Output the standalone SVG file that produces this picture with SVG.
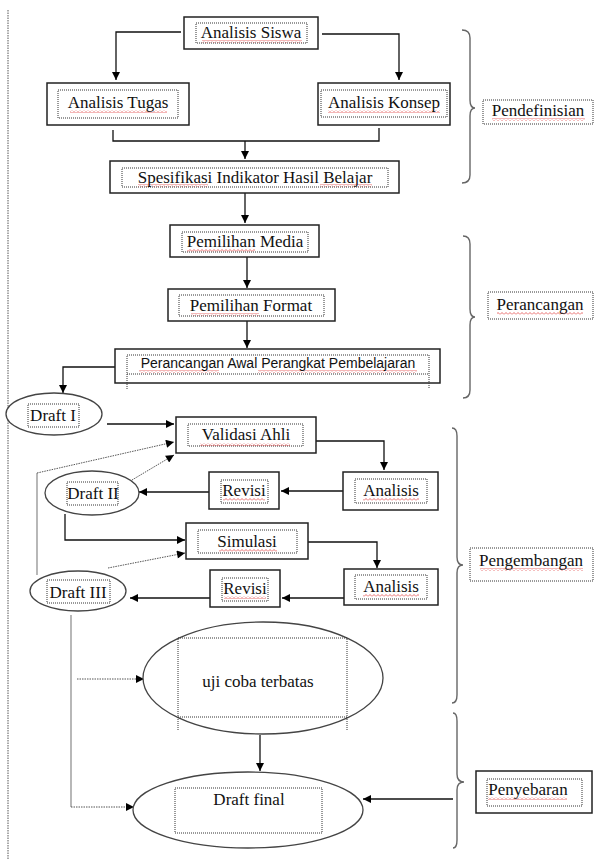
<svg xmlns="http://www.w3.org/2000/svg" width="594" height="863" viewBox="0 0 594 863">
<style>
.box{fill:#fff;stroke:#222;stroke-width:1.5}
.inner{fill:none;stroke:#333;stroke-width:1;stroke-dasharray:1,1}
.ell{fill:#fff;stroke:#444;stroke-width:1.3}
.t{font-family:'Liberation Serif','Times New Roman',serif;font-size:17px;fill:#111;text-anchor:middle}
.ts{font-family:'Liberation Sans',Arial,sans-serif;font-size:14px;fill:#111;text-anchor:middle}
.c{fill:none;stroke:#111;stroke-width:1.3}
.cd{fill:none;stroke:#555;stroke-width:1;stroke-dasharray:1.5,1}
.cg{fill:none;stroke:#888;stroke-width:1.2}
.brace{fill:none;stroke:#666;stroke-width:1.4}
.w{fill:url(#wave)}
</style>
<defs>
<marker id="ah" viewBox="0 0 10 10" refX="10" refY="5" markerWidth="9" markerHeight="8" markerUnits="userSpaceOnUse" orient="auto">
<path d="M0,0 L10,5 L0,10 z" fill="#000"/>
</marker>
<pattern id="wave" width="4" height="3" patternUnits="userSpaceOnUse">
<path d="M0,2.5 L2,0.5 L4,2.5" fill="none" stroke="#e03030" stroke-width="0.7"/>
</pattern>
</defs>
<rect width="594" height="863" fill="#fff"/>
<line x1="8" y1="10" x2="8" y2="860" class="cd"/>

<g id="connectors">
<path class="c" d="M181,32 H116 V80" marker-end="url(#ah)"/>
<path class="c" d="M322,34 H399 V80" marker-end="url(#ah)"/>
<path class="c" d="M113,130 V141 H379 V128"/>
<path class="c" d="M245,141 V159" marker-end="url(#ah)"/>
<path class="c" d="M245,193 V223" marker-end="url(#ah)"/>
<path class="c" d="M247,257 V288" marker-end="url(#ah)"/>
<path class="c" d="M247,321 V348" marker-end="url(#ah)"/>
<path class="c" d="M115,367 H63 V393" marker-end="url(#ah)"/>
<path class="c" d="M107,424 H174" marker-end="url(#ah)"/>
<path class="c" d="M316,441 H384 V470" marker-end="url(#ah)"/>
<path class="c" d="M343,491 H281" marker-end="url(#ah)"/>
<path class="c" d="M209,492 H139" marker-end="url(#ah)"/>
<path class="c" d="M65,514 V540 H185" marker-end="url(#ah)"/>
<path class="c" d="M308,542 H377 V568" marker-end="url(#ah)"/>
<path class="c" d="M344,598 H282" marker-end="url(#ah)"/>
<path class="c" d="M210,598 H130" marker-end="url(#ah)"/>
<path class="cd" d="M132,480 L174,455" marker-end="url(#ah)"/>
<path class="cg" d="M37,575 V473"/>
<path class="cd" d="M37,473 L174,442" marker-end="url(#ah)"/>
<path class="cd" d="M108,568 L185,553" marker-end="url(#ah)"/>
<path class="cg" d="M71,615 V807"/>
<path class="cd" d="M71,807 H134" marker-end="url(#ah)"/>
<path class="cd" d="M77,679 H144" marker-end="url(#ah)"/>
<path class="c" d="M260,735 V771" marker-end="url(#ah)"/>
<path class="c" d="M453,799 H363" marker-end="url(#ah)"/>
</g>

<g id="brace-pendefinisian"><path class="brace" d="M462,30 Q470,30 470,38 L470,100 Q470,108 475,108 Q470,108 470,116 L470,175 Q470,183 462,183"/></g>
<g id="brace-perancangan"><path class="brace" d="M463,236 Q470,236 470,244 L470,309 Q470,317 475,317 Q470,317 470,325 L470,390 Q470,398 463,398"/></g>
<g id="brace-pengembangan"><path class="brace" d="M452,428 Q457,428 457,436 L457,557 Q457,565 463,565 Q457,565 457,573 L457,695 Q457,703 452,703"/></g>
<g id="brace-penyebaran"><path class="brace" d="M453,713 Q457,713 457,721 L457,774 Q457,782 464,782 Q457,782 457,790 L457,840 Q457,848 453,848"/></g>

<g id="analisis-siswa">
<rect class="box" x="184" y="17" width="134" height="32"/>
<rect class="inner" x="196" y="23" width="111" height="20"/>
<rect class="w" x="202" y="40" width="100" height="3"/>
<text class="t" x="251" y="38">Analisis Siswa</text>
</g>
<g id="analisis-tugas">
<rect class="box" x="47" y="83" width="142" height="42"/>
<rect class="inner" x="58" y="90" width="120" height="28"/>
<rect class="w" x="70" y="110" width="97" height="3"/>
<text class="t" x="118" y="108">Analisis Tugas</text>
</g>
<g id="analisis-konsep">
<rect class="box" x="318" y="83" width="132" height="42"/>
<rect class="inner" x="321" y="90" width="126" height="27"/>
<rect class="w" x="328" y="110" width="112" height="3"/>
<text class="t" x="384" y="108">Analisis Konsep</text>
</g>
<g id="spesifikasi">
<rect class="box" x="110" y="161" width="289" height="32"/>
<rect class="inner" x="122" y="168" width="266" height="19"/>
<rect class="w" x="138" y="184" width="70" height="3"/>
<rect class="w" x="320" y="184" width="52" height="3"/>
<text class="t" x="255" y="183">Spesifikasi Indikator Hasil Belajar</text>
</g>
<g id="pemilihan-media">
<rect class="box" x="170" y="225" width="149" height="32"/>
<rect class="inner" x="182" y="232" width="126" height="20"/>
<rect class="w" x="187" y="249" width="68" height="3"/>
<text class="t" x="245" y="247">Pemilihan Media</text>
</g>
<g id="pemilihan-format">
<rect class="box" x="168" y="289" width="167" height="32"/>
<rect class="inner" x="179" y="295" width="145" height="21"/>
<rect class="w" x="191" y="313" width="68" height="3"/>
<text class="t" x="251" y="311">Pemilihan Format</text>
</g>
<g id="perancangan-awal">
<rect class="box" x="115" y="349" width="325" height="34"/>
<path class="inner" d="M127,389 V355 H429 V389 M127,374 H429"/>
<rect class="w" x="139" y="370" width="80" height="3"/>
<rect class="w" x="258" y="370" width="159" height="3"/>
<text class="ts" x="278" y="368">Perancangan Awal Perangkat Pembelajaran</text>
</g>
<g id="draft-1">
<ellipse class="ell" cx="54" cy="414" rx="48" ry="21"/>
<rect class="inner" x="28" y="404" width="51" height="23"/>
<text class="t" x="53" y="421">Draft I</text>
</g>
<g id="validasi-ahli">
<rect class="box" x="176" y="417" width="140" height="36"/>
<rect class="inner" x="188" y="424" width="115" height="22"/>
<rect class="w" x="200" y="443" width="90" height="3"/>
<text class="t" x="246" y="440">Validasi Ahli</text>
</g>
<g id="analisis-1">
<rect class="box" x="343" y="472" width="95" height="38"/>
<rect class="inner" x="355" y="479" width="72" height="24"/>
<rect class="w" x="363" y="498" width="56" height="3"/>
<text class="t" x="391" y="496">Analisis</text>
</g>
<g id="revisi-1">
<rect class="box" x="209" y="472" width="70" height="37"/>
<rect class="inner" x="221" y="480" width="47" height="23"/>
<rect class="w" x="223" y="498" width="42" height="3"/>
<text class="t" x="244" y="496">Revisi</text>
</g>
<g id="draft-2">
<ellipse class="ell" cx="92" cy="493" rx="47" ry="22"/>
<rect class="inner" x="67" y="482" width="51" height="23"/>
<text class="t" x="93" y="499">Draft II</text>
</g>
<g id="simulasi">
<rect class="box" x="186" y="523" width="122" height="36"/>
<rect class="inner" x="198" y="530" width="99" height="23"/>
<rect class="w" x="219" y="549" width="58" height="3"/>
<text class="t" x="247" y="547">Simulasi</text>
</g>
<g id="analisis-2">
<rect class="box" x="344" y="569" width="94" height="36"/>
<rect class="inner" x="355" y="575" width="72" height="24"/>
<rect class="w" x="363" y="594" width="56" height="3"/>
<text class="t" x="391" y="592">Analisis</text>
</g>
<g id="revisi-2">
<rect class="box" x="210" y="570" width="70" height="37"/>
<rect class="inner" x="222" y="578" width="46" height="23"/>
<rect class="w" x="224" y="596" width="42" height="3"/>
<text class="t" x="245" y="594">Revisi</text>
</g>
<g id="draft-3">
<ellipse class="ell" cx="78" cy="591" rx="48" ry="20"/>
<rect class="inner" x="47" y="580" width="63" height="23"/>
<text class="t" x="78" y="598">Draft III</text>
</g>
<g id="uji-coba">
<ellipse class="ell" cx="263" cy="678" rx="120" ry="56"/>
<path class="inner" d="M178,730 V638 H347 V730 M178,717 H347"/>
<text class="t" x="258" y="687">uji coba terbatas</text>
</g>
<g id="draft-final">
<ellipse class="ell" cx="248" cy="810" rx="115" ry="38"/>
<rect class="inner" x="175" y="788" width="147" height="45"/>
<text class="t" x="249" y="805">Draft final</text>
</g>
<g id="label-pendefinisian">
<rect class="inner" x="483" y="100" width="110" height="24"/>
<rect class="w" x="492" y="118" width="93" height="3"/>
<text class="t" x="538" y="116">Pendefinisian</text>
</g>
<g id="label-perancangan">
<rect class="inner" x="488" y="292" width="105" height="27"/>
<rect class="w" x="497" y="312" width="86" height="3"/>
<text class="t" x="540" y="310">Perancangan</text>
</g>
<g id="label-pengembangan">
<rect class="inner" x="470" y="548" width="123" height="33"/>
<rect class="w" x="480" y="568" width="103" height="3"/>
<text class="t" x="531" y="566">Pengembangan</text>
</g>
<g id="label-penyebaran">
<rect class="box" x="476" y="771" width="116" height="42"/>
<rect class="inner" x="487" y="779" width="95" height="27"/>
<rect class="w" x="488" y="797" width="79" height="3"/>
<text class="t" x="528" y="795">Penyebaran</text>
</g>
</svg>
